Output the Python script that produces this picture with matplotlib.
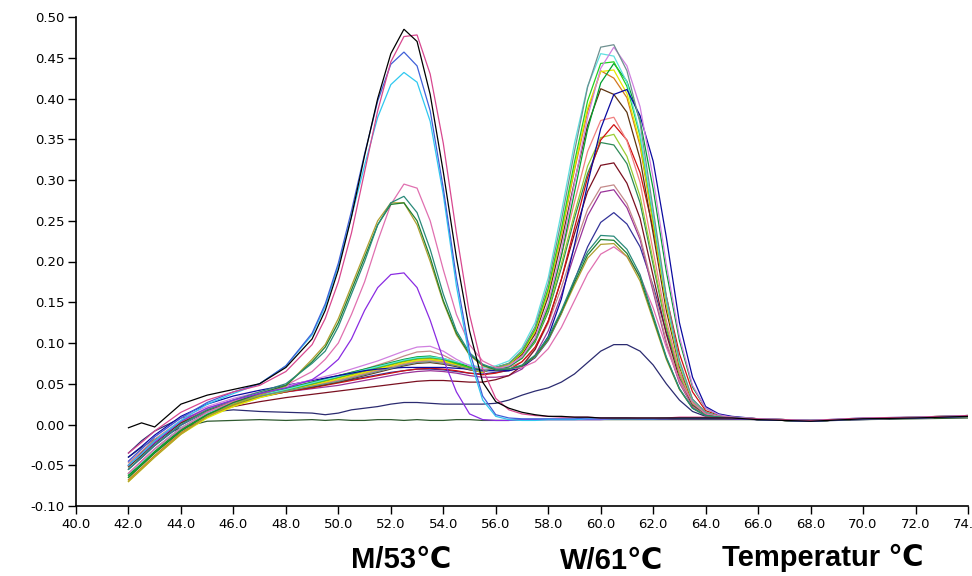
import matplotlib
matplotlib.use("Agg")
import matplotlib.pyplot as plt
from matplotlib.ticker import MultipleLocator, FormatStrFormatter

# ---------------- data ----------------
temps = [42.0, 42.5, 43.0, 44.0, 45.0, 46.0, 47.0, 48.0, 49.0,
         49.5, 50.0, 50.5, 51.0, 51.5, 52.0, 52.5, 53.0, 53.5, 54.0,
         54.5, 55.0, 55.5, 56.0, 56.5, 57.0, 57.5, 58.0, 58.5, 59.0,
         59.5, 60.0, 60.5, 61.0, 61.5, 62.0, 62.5, 63.0, 63.5, 64.0,
         64.5, 65.0, 66.0, 68.0, 70.0, 72.0, 74.0]

x_ticks = [40.0, 42.0, 44.0, 46.0, 48.0, 50.0, 52.0, 54.0, 56.0, 58.0, 60.0,
           62.0, 64.0, 66.0, 68.0, 70.0, 72.0, 74.0]
y_ticks = [-0.10, -0.05, 0.00, 0.05, 0.10, 0.15, 0.20, 0.25, 0.30, 0.35,
           0.40, 0.45, 0.50]
peak_labels = ["M/53\u2103", "W/61\u2103", "Temperatur \u2103"]

# --- wild-type (W) curves ---
w_gray = [-0.055, -0.04, -0.025, 0.0, 0.016, 0.027, 0.035, 0.041, 0.047, 0.05, 0.053,
          0.057, 0.061, 0.065, 0.069, 0.073, 0.076, 0.077, 0.075, 0.072, 0.068, 0.065,
          0.07, 0.075, 0.091, 0.12, 0.173, 0.25, 0.335, 0.414, 0.463, 0.466, 0.434,
          0.37, 0.264, 0.158, 0.079, 0.031, 0.015, 0.01, 0.009,
          0.007, 0.005, 0.007, 0.009, 0.011]
w_violet = [-0.045, -0.03, -0.015, 0.008, 0.022, 0.032, 0.04, 0.047, 0.055, 0.059, 0.063,
            0.068, 0.073, 0.078, 0.084, 0.09, 0.095, 0.096, 0.09, 0.08, 0.072, 0.068,
            0.068, 0.072, 0.083, 0.106, 0.149, 0.214, 0.296, 0.377, 0.437, 0.463, 0.44,
            0.39, 0.302, 0.197, 0.108, 0.048, 0.02, 0.012, 0.009,
            0.007, 0.005, 0.008, 0.009, 0.011]
w_cyan = [-0.06, -0.046, -0.03, -0.004, 0.014, 0.026, 0.036, 0.043, 0.051, 0.055, 0.059,
          0.063, 0.067, 0.071, 0.075, 0.079, 0.082, 0.083, 0.081, 0.077, 0.073, 0.07,
          0.072, 0.078, 0.094, 0.125, 0.18, 0.26, 0.345, 0.415, 0.455, 0.452, 0.42,
          0.357, 0.256, 0.153, 0.076, 0.03, 0.015, 0.01, 0.009,
          0.007, 0.005, 0.007, 0.008, 0.01]
w_lime = [-0.065, -0.05, -0.035, -0.008, 0.012, 0.025, 0.035, 0.042, 0.05, 0.054, 0.058,
          0.062, 0.066, 0.07, 0.074, 0.078, 0.081, 0.082, 0.08, 0.075, 0.07, 0.066,
          0.07, 0.075, 0.089, 0.117, 0.167, 0.24, 0.322, 0.397, 0.443, 0.445, 0.415,
          0.354, 0.253, 0.152, 0.076, 0.03, 0.015, 0.01, 0.009,
          0.006, 0.004, 0.007, 0.008, 0.01]
w_green = [-0.062, -0.048, -0.033, -0.006, 0.013, 0.026, 0.036, 0.044, 0.052, 0.056, 0.06,
           0.064, 0.068, 0.072, 0.076, 0.08, 0.083, 0.084, 0.081, 0.076, 0.071, 0.067,
           0.067, 0.071, 0.082, 0.104, 0.144, 0.207, 0.285, 0.362, 0.419, 0.443, 0.421,
           0.373, 0.289, 0.188, 0.103, 0.046, 0.02, 0.012, 0.009,
           0.006, 0.004, 0.007, 0.008, 0.01]
w_yellow = [-0.07, -0.055, -0.04, -0.012, 0.008, 0.022, 0.033, 0.041, 0.048, 0.052, 0.056,
            0.06, 0.064, 0.068, 0.072, 0.076, 0.079, 0.08, 0.078, 0.073, 0.068, 0.064,
            0.07, 0.074, 0.088, 0.115, 0.164, 0.236, 0.315, 0.388, 0.433, 0.435, 0.406,
            0.346, 0.248, 0.148, 0.074, 0.029, 0.015, 0.01, 0.009,
            0.007, 0.005, 0.007, 0.009, 0.011]
w_orange = [-0.068, -0.053, -0.038, -0.01, 0.01, 0.024, 0.034, 0.042, 0.049, 0.053, 0.057,
            0.061, 0.065, 0.069, 0.073, 0.077, 0.08, 0.081, 0.078, 0.074, 0.069, 0.065,
            0.07, 0.074, 0.088, 0.114, 0.163, 0.233, 0.312, 0.384, 0.434, 0.425, 0.401,
            0.342, 0.245, 0.147, 0.074, 0.029, 0.015, 0.01, 0.009,
            0.006, 0.004, 0.007, 0.008, 0.01]
w_brown = [-0.052, -0.038, -0.023, 0.002, 0.017, 0.027, 0.035, 0.041, 0.046, 0.049, 0.052,
           0.056, 0.06, 0.064, 0.068, 0.072, 0.075, 0.076, 0.074, 0.071, 0.067, 0.064,
           0.07, 0.074, 0.086, 0.111, 0.157, 0.224, 0.298, 0.367, 0.412, 0.405, 0.383,
           0.326, 0.234, 0.14, 0.071, 0.028, 0.014, 0.01, 0.009,
           0.006, 0.004, 0.007, 0.008, 0.01]
w_navy = [-0.04, -0.027, -0.013, 0.01, 0.025, 0.035, 0.042, 0.048, 0.054, 0.057, 0.06,
          0.063, 0.066, 0.068, 0.069, 0.07, 0.07, 0.07, 0.07, 0.069, 0.068, 0.066,
          0.066, 0.066, 0.07, 0.083, 0.108, 0.154, 0.22, 0.295, 0.363, 0.405, 0.411,
          0.379, 0.323, 0.23, 0.125, 0.058, 0.022, 0.013, 0.01,
          0.007, 0.005, 0.007, 0.008, 0.01]
w_salmon = [-0.05, -0.036, -0.021, 0.003, 0.018, 0.028, 0.036, 0.042, 0.048, 0.051, 0.054,
            0.058, 0.062, 0.066, 0.07, 0.074, 0.077, 0.078, 0.076, 0.073, 0.069, 0.066,
            0.069, 0.072, 0.084, 0.106, 0.147, 0.207, 0.273, 0.335, 0.373, 0.377, 0.348,
            0.297, 0.213, 0.128, 0.065, 0.027, 0.014, 0.01, 0.009,
            0.007, 0.005, 0.007, 0.009, 0.011]
w_red = [-0.06, -0.045, -0.03, -0.004, 0.014, 0.026, 0.034, 0.04, 0.045, 0.048, 0.051,
         0.054, 0.057, 0.06, 0.063, 0.066, 0.068, 0.069, 0.068, 0.066, 0.063, 0.061,
         0.063, 0.067, 0.077, 0.095, 0.127, 0.178, 0.241, 0.303, 0.349, 0.368, 0.349,
         0.309, 0.24, 0.157, 0.087, 0.04, 0.017, 0.011, 0.009,
         0.006, 0.004, 0.007, 0.008, 0.01]
w_olive = [-0.068, -0.054, -0.039, -0.011, 0.009, 0.023, 0.033, 0.04, 0.047, 0.051, 0.055,
           0.059, 0.063, 0.067, 0.071, 0.075, 0.078, 0.079, 0.077, 0.073, 0.069, 0.066,
           0.069, 0.072, 0.082, 0.103, 0.141, 0.197, 0.259, 0.317, 0.352, 0.356, 0.329,
           0.28, 0.201, 0.122, 0.062, 0.026, 0.014, 0.01, 0.009,
           0.006, 0.004, 0.007, 0.008, 0.01]
w_seagreen = [-0.063, -0.049, -0.034, -0.007, 0.012, 0.025, 0.035, 0.043, 0.051, 0.055, 0.059,
              0.063, 0.067, 0.071, 0.075, 0.079, 0.082, 0.083, 0.08, 0.075, 0.07, 0.067,
              0.069, 0.071, 0.081, 0.101, 0.138, 0.192, 0.253, 0.308, 0.346, 0.343, 0.32,
              0.272, 0.196, 0.119, 0.061, 0.025, 0.013, 0.01, 0.009,
              0.006, 0.004, 0.007, 0.008, 0.01]
w_maroon = [-0.05, -0.035, -0.02, 0.002, 0.015, 0.022, 0.028, 0.033, 0.037, 0.039, 0.041,
            0.043, 0.045, 0.047, 0.049, 0.051, 0.053, 0.054, 0.054, 0.053, 0.052, 0.052,
            0.055, 0.06, 0.072, 0.092, 0.127, 0.178, 0.234, 0.286, 0.318, 0.321, 0.296,
            0.253, 0.182, 0.111, 0.057, 0.024, 0.013, 0.009, 0.009,
            0.006, 0.004, 0.007, 0.008, 0.01]
w_rosy = [-0.047, -0.033, -0.018, 0.005, 0.02, 0.03, 0.038, 0.045, 0.052, 0.056, 0.06,
          0.064, 0.068, 0.073, 0.078, 0.084, 0.089, 0.09, 0.085, 0.077, 0.07, 0.067,
          0.068, 0.07, 0.077, 0.093, 0.124, 0.168, 0.218, 0.264, 0.291, 0.294, 0.271,
          0.231, 0.167, 0.102, 0.053, 0.023, 0.012, 0.009, 0.009,
          0.007, 0.005, 0.007, 0.009, 0.011]
w_purple = [-0.05, -0.037, -0.022, 0.003, 0.018, 0.028, 0.035, 0.04, 0.044, 0.046, 0.048,
            0.051, 0.054, 0.057, 0.06, 0.063, 0.065, 0.066, 0.065, 0.063, 0.06, 0.058,
            0.058, 0.06, 0.068, 0.085, 0.115, 0.159, 0.209, 0.256, 0.285, 0.288, 0.266,
            0.227, 0.163, 0.099, 0.051, 0.022, 0.012, 0.009, 0.009,
            0.006, 0.004, 0.007, 0.008, 0.01]
w_slate = [-0.055, -0.041, -0.026, -0.001, 0.016, 0.026, 0.034, 0.04, 0.046, 0.049, 0.052,
           0.055, 0.058, 0.061, 0.064, 0.066, 0.068, 0.068, 0.067, 0.065, 0.063, 0.062,
           0.064, 0.066, 0.071, 0.082, 0.103, 0.136, 0.177, 0.218, 0.248, 0.26, 0.246,
           0.218, 0.17, 0.113, 0.064, 0.031, 0.014, 0.01, 0.009,
           0.006, 0.004, 0.007, 0.008, 0.01]
w_low_navy = [-0.035, -0.02, -0.008, 0.008, 0.015, 0.018, 0.016, 0.015, 0.014, 0.012, 0.014,
              0.018, 0.02, 0.022, 0.025, 0.027, 0.027, 0.026, 0.025, 0.025, 0.025, 0.025,
              0.026, 0.03, 0.036, 0.041, 0.045, 0.052, 0.062, 0.076, 0.09, 0.098, 0.098,
              0.09, 0.073, 0.05, 0.03, 0.016, 0.01, 0.008, 0.007,
              0.006, 0.004, 0.006, 0.008, 0.01]
ntc_flat = [-0.04, -0.028, -0.018, -0.004, 0.004, 0.005, 0.006, 0.005, 0.006, 0.005, 0.006,
            0.005, 0.005, 0.006, 0.006, 0.005, 0.006, 0.005, 0.005, 0.006, 0.006, 0.005,
            0.005, 0.005, 0.006, 0.006, 0.006, 0.006, 0.006, 0.006, 0.006, 0.006, 0.006,
            0.006, 0.006, 0.006, 0.006, 0.006, 0.006, 0.006, 0.006,
            0.006, 0.005, 0.006, 0.007, 0.008]

# --- heterozygous (both peaks) curves ---
h_pink = [-0.06, -0.045, -0.03, -0.005, 0.015, 0.028, 0.038, 0.048, 0.065, 0.08, 0.1,
          0.135, 0.175, 0.225, 0.27, 0.295, 0.29, 0.25, 0.19, 0.135, 0.098, 0.078,
          0.07, 0.068, 0.07, 0.077, 0.093, 0.119, 0.152, 0.185, 0.209, 0.218, 0.206,
          0.182, 0.143, 0.095, 0.055, 0.027, 0.013, 0.01, 0.009,
          0.007, 0.005, 0.007, 0.008, 0.01]
h_teal = [-0.055, -0.04, -0.025, 0.0, 0.018, 0.03, 0.04, 0.05, 0.075, 0.09, 0.12,
          0.16, 0.2, 0.245, 0.272, 0.28, 0.26, 0.215, 0.16, 0.115, 0.088, 0.074,
          0.068, 0.068, 0.073, 0.085, 0.107, 0.14, 0.178, 0.212, 0.232, 0.231, 0.215,
          0.184, 0.134, 0.083, 0.044, 0.02, 0.011, 0.009, 0.008,
          0.006, 0.004, 0.007, 0.008, 0.01]
h_olive = [-0.07, -0.055, -0.04, -0.012, 0.01, 0.025, 0.036, 0.047, 0.08, 0.098, 0.13,
           0.17, 0.21, 0.25, 0.272, 0.272, 0.245, 0.2, 0.15, 0.11, 0.085, 0.072,
           0.067, 0.068, 0.072, 0.083, 0.104, 0.136, 0.171, 0.204, 0.221, 0.222, 0.206,
           0.176, 0.128, 0.08, 0.043, 0.02, 0.011, 0.009, 0.008,
           0.006, 0.004, 0.007, 0.008, 0.01]
h_green = [-0.065, -0.05, -0.035, -0.008, 0.012, 0.027, 0.038, 0.048, 0.077, 0.095, 0.125,
           0.165, 0.205, 0.245, 0.27, 0.272, 0.25, 0.205, 0.152, 0.112, 0.086, 0.073,
           0.067, 0.068, 0.072, 0.084, 0.105, 0.138, 0.174, 0.208, 0.227, 0.226, 0.21,
           0.18, 0.131, 0.082, 0.044, 0.02, 0.011, 0.009, 0.008,
           0.006, 0.004, 0.007, 0.008, 0.01]

# --- mutant (M) curves ---
m_purple = [-0.05, -0.036, -0.022, 0.004, 0.02, 0.03, 0.038, 0.045, 0.055, 0.066, 0.08,
            0.105, 0.14, 0.168, 0.184, 0.186, 0.168, 0.128, 0.08, 0.04, 0.013, 0.006,
            0.005, 0.005, 0.006, 0.006, 0.006, 0.006, 0.006, 0.006, 0.006, 0.007, 0.007,
            0.007, 0.007, 0.007, 0.007, 0.007, 0.007, 0.007, 0.007,
            0.006, 0.004, 0.007, 0.008, 0.01]
m_cyan = [-0.05, -0.036, -0.02, 0.005, 0.025, 0.038, 0.05, 0.072, 0.11, 0.145, 0.195,
          0.255, 0.318, 0.377, 0.417, 0.432, 0.42, 0.372, 0.282, 0.17, 0.082, 0.03,
          0.01, 0.006, 0.005, 0.005, 0.006, 0.006, 0.006, 0.007, 0.007, 0.007, 0.007,
          0.007, 0.007, 0.008, 0.008, 0.008, 0.008, 0.008, 0.008,
          0.007, 0.005, 0.008, 0.009, 0.011]
m_blue = [-0.045, -0.03, -0.015, 0.008, 0.027, 0.04, 0.05, 0.072, 0.112, 0.148, 0.198,
          0.262, 0.332, 0.397, 0.442, 0.457, 0.44, 0.385, 0.29, 0.18, 0.09, 0.035,
          0.012, 0.008, 0.007, 0.007, 0.007, 0.007, 0.007, 0.008, 0.008, 0.008, 0.008,
          0.007, 0.007, 0.007, 0.008, 0.008, 0.008, 0.008, 0.008,
          0.006, 0.004, 0.007, 0.008, 0.01]
m_pink = [-0.035, -0.022, -0.008, 0.015, 0.03, 0.04, 0.048, 0.065, 0.098, 0.13, 0.175,
          0.235, 0.31, 0.385, 0.445, 0.476, 0.478, 0.43, 0.345, 0.235, 0.135, 0.068,
          0.032, 0.018, 0.013, 0.011, 0.01, 0.009, 0.009, 0.009, 0.008, 0.008, 0.008,
          0.008, 0.008, 0.008, 0.009, 0.009, 0.009, 0.008, 0.008,
          0.007, 0.005, 0.008, 0.009, 0.011]
m_black = [-0.004, 0.002, -0.003, 0.025, 0.036, 0.043, 0.05, 0.07, 0.105, 0.14, 0.19,
           0.255, 0.33, 0.40, 0.455, 0.485, 0.47, 0.405, 0.31, 0.205, 0.115, 0.052,
           0.028, 0.02, 0.015, 0.012, 0.01, 0.01, 0.009, 0.009, 0.008, 0.008, 0.008,
           0.008, 0.008, 0.008, 0.008, 0.008, 0.008, 0.008, 0.008,
           0.006, 0.004, 0.007, 0.008, 0.01]

# drawing order (back to front) and colours
series = [
    (ntc_flat, "#2f5a2f"), (w_low_navy, "#2b2b70"),
    (w_slate, "#333399"), (w_purple, "#993399"), (w_rosy, "#c48a8a"),
    (w_maroon, "#7a1020"), (w_seagreen, "#2e8b57"), (w_olive, "#9acd32"),
    (w_red, "#d01010"), (w_salmon, "#f08080"), (w_brown, "#5c3310"),
    (w_orange, "#d2781e"), (w_yellow, "#e6e600"), (w_green, "#00a030"),
    (w_lime, "#22d022"), (w_cyan, "#5fe0e0"), (w_navy, "#0a0aa0"),
    (w_violet, "#d080e0"), (w_gray, "#6e9090"),
    (h_pink, "#e070b0"), (h_olive, "#b0a030"), (h_green, "#208030"),
    (h_teal, "#2a8a7a"),
    (m_purple, "#8a2be2"), (m_cyan, "#30c8f0"), (m_blue, "#4060d8"),
    (m_pink, "#d84890"), (m_black, "#000000"),
]

# ---------------- figure ----------------
W, H = 972, 576
fig = plt.figure(figsize=(W / 100, H / 100), dpi=100)
ax = fig.add_axes([76 / W, 1 - 506 / H, 892 / W, (506 - 17) / H])

for vals, col in series:
    ax.plot(temps, vals, color=col, lw=0.9, solid_joinstyle="miter")

ax.set_xlim(40, 74)
ax.set_ylim(-0.10, 0.50)
ax.set_xticks(x_ticks)
ax.set_yticks(y_ticks)
ax.xaxis.set_major_formatter(FormatStrFormatter("%.1f"))
ax.yaxis.set_major_formatter(FormatStrFormatter("%.2f"))

for s in ("top", "right"):
    ax.spines[s].set_visible(False)
for s in ("left", "bottom"):
    ax.spines[s].set_linewidth(1.2)
    ax.spines[s].set_color("black")

ax.tick_params(axis="both", direction="out", length=5.5, width=1.0,
               labelsize=9.5, colors="black", pad=3)
for lab in ax.get_xticklabels() + ax.get_yticklabels():
    lab.set_family("DejaVu Sans")

bold_fam = ["Liberation Sans Narrow", "Liberation Sans", "DejaVu Sans"]
fig.text(401 / W, 1 - 560 / H, peak_labels[0], ha="center", va="center",
         fontsize=21, fontweight="bold", family=bold_fam)
fig.text(612 / W, 1 - 561 / H, peak_labels[1], ha="center", va="center",
         fontsize=21, fontweight="bold", family=bold_fam)
fig.text(823 / W, 1 - 558 / H, peak_labels[2], ha="center", va="center",
         fontsize=21, fontweight="bold", family=bold_fam)

fig.savefig("out.png", dpi=100)
